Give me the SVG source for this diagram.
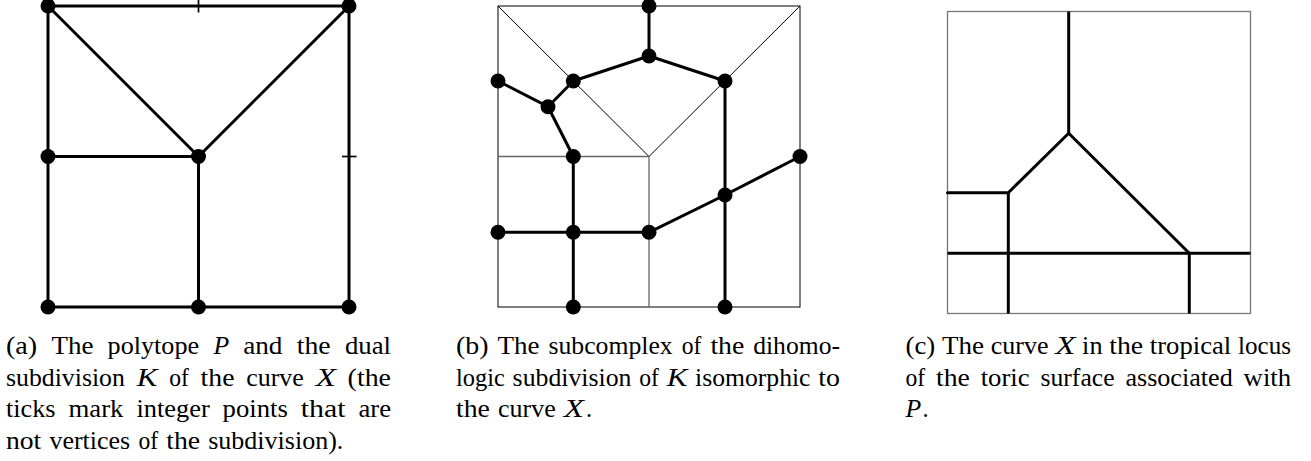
<svg xmlns="http://www.w3.org/2000/svg" width="1311" height="461" viewBox="0 0 1311 461">
<style>
.thick{stroke:#000;stroke-width:3;fill:none;stroke-linecap:round;stroke-linejoin:round}
.thin{stroke:#000;stroke-width:1;fill:none}
.grey{stroke:#666;stroke-width:1.3;fill:none}
.border{stroke:#777;stroke-width:1.3;fill:none}
.tick{stroke:#000;stroke-width:1.7;fill:none}
.dot{fill:#000}
.cap text{font-family:"Liberation Serif","DejaVu Serif",serif;font-size:24.4px;fill:#000}
.cap text.it{font-style:italic}
</style>
<rect width="1311" height="461" fill="#fff"/>

<!-- Panel (a) -->
<g id="panel-a">
  <g id="connectors-a">
    <polygon class="thick" points="48,6 349,6 349,307 48,307"/>
    <line class="thick" x1="48" y1="6" x2="198.5" y2="156.5"/>
    <line class="thick" x1="349" y1="6" x2="198.5" y2="156.5"/>
    <line class="thick" x1="48" y1="156.5" x2="198.5" y2="156.5"/>
    <line class="thick" x1="198.5" y1="156.5" x2="198.5" y2="307"/>
    <line class="tick" x1="198.5" y1="0" x2="198.5" y2="12.5"/>
    <line class="tick" x1="342" y1="156.5" x2="356.5" y2="156.5"/>
  </g>
  <g id="a-n1"><circle class="dot" cx="48" cy="6" r="7.5"/></g>
  <g id="a-n2"><circle class="dot" cx="349" cy="6" r="7.5"/></g>
  <g id="a-n3"><circle class="dot" cx="48" cy="156.5" r="7.5"/></g>
  <g id="a-n4"><circle class="dot" cx="198.5" cy="156.5" r="7.5"/></g>
  <g id="a-n5"><circle class="dot" cx="48" cy="307" r="7.5"/></g>
  <g id="a-n6"><circle class="dot" cx="198.5" cy="307" r="7.5"/></g>
  <g id="a-n7"><circle class="dot" cx="349" cy="307" r="7.5"/></g>
</g>

<!-- Panel (b) -->
<g id="panel-b">
  <g id="connectors-b">
    <rect class="thin" x="498" y="6" width="302" height="301"/>
    <line class="thin" x1="498" y1="6" x2="649" y2="156.5"/>
    <line class="thin" x1="800" y1="6" x2="649" y2="156.5"/>
    <line class="grey" x1="498" y1="156.5" x2="649" y2="156.5"/>
    <line class="grey" x1="649" y1="156.5" x2="649" y2="307"/>
    <line class="thick" x1="649" y1="6" x2="649" y2="56"/>
    <polyline class="thick" points="573.3,81 649,56 725,81"/>
    <polyline class="thick" points="498,81 548,106.7 573.3,81"/>
    <polyline class="thick" points="548,106.7 573.3,156.5 573.3,307"/>
    <line class="thick" x1="498" y1="232.3" x2="649" y2="232.3"/>
    <polyline class="thick" points="649,232.3 725,195 800,156.5"/>
    <line class="thick" x1="725" y1="81" x2="725" y2="307"/>
  </g>
  <g id="b-n1"><circle class="dot" cx="649" cy="6" r="7.5"/></g>
  <g id="b-n2"><circle class="dot" cx="649" cy="56" r="7.5"/></g>
  <g id="b-n3"><circle class="dot" cx="573.3" cy="81" r="7.5"/></g>
  <g id="b-n4"><circle class="dot" cx="725" cy="81" r="7.5"/></g>
  <g id="b-n5"><circle class="dot" cx="498" cy="81" r="7.5"/></g>
  <g id="b-n6"><circle class="dot" cx="548" cy="106.7" r="7.5"/></g>
  <g id="b-n7"><circle class="dot" cx="573.3" cy="156.5" r="7.5"/></g>
  <g id="b-n8"><circle class="dot" cx="800" cy="156.5" r="7.5"/></g>
  <g id="b-n9"><circle class="dot" cx="725" cy="195" r="7.5"/></g>
  <g id="b-n10"><circle class="dot" cx="498" cy="232.3" r="7.5"/></g>
  <g id="b-n11"><circle class="dot" cx="573.3" cy="232.3" r="7.5"/></g>
  <g id="b-n12"><circle class="dot" cx="649" cy="232.3" r="7.5"/></g>
  <g id="b-n13"><circle class="dot" cx="573.3" cy="307" r="7.5"/></g>
  <g id="b-n14"><circle class="dot" cx="725" cy="307" r="7.5"/></g>
</g>

<!-- Panel (c) -->
<g id="panel-c">
  <g id="connectors-c">
    <rect class="border" x="947.5" y="11.5" width="303" height="302"/>
    <line class="thick" x1="1068.7" y1="11.5" x2="1068.7" y2="133.3" style="stroke-linecap:butt"/>
    <polyline class="thick" points="947.5,192.7 1008.3,192.7 1068.7,133.3 1189.3,253.3"/>
    <line class="thick" x1="1008.3" y1="192.7" x2="1008.3" y2="313.5" style="stroke-linecap:butt"/>
    <line class="thick" x1="947.5" y1="253.3" x2="1250.5" y2="253.3" style="stroke-linecap:butt"/>
    <line class="thick" x1="1189.3" y1="253.3" x2="1189.3" y2="313.5" style="stroke-linecap:butt"/>
  </g>
</g>

<!-- Captions -->
<g id="caption-a" class="cap">
  <text x="6" y="354" textLength="31.2" lengthAdjust="spacingAndGlyphs">(a)</text>
  <text x="51.4" y="354" textLength="42" lengthAdjust="spacingAndGlyphs">The</text>
  <text x="107.6" y="354" textLength="91.5" lengthAdjust="spacingAndGlyphs">polytope</text>
  <text class="it" x="213.4" y="354" textLength="15.7" lengthAdjust="spacingAndGlyphs">P</text>
  <text x="243.2" y="354" textLength="39.3" lengthAdjust="spacingAndGlyphs">and</text>
  <text x="296.8" y="354" textLength="33.9" lengthAdjust="spacingAndGlyphs">the</text>
  <text x="344.9" y="354" textLength="46.1" lengthAdjust="spacingAndGlyphs">dual</text>

  <text x="6" y="385.7" textLength="118.9" lengthAdjust="spacingAndGlyphs">subdivision</text>
  <text class="it" x="136.7" y="385.7" textLength="20.7" lengthAdjust="spacingAndGlyphs">K</text>
  <text x="169.2" y="385.7" textLength="19.7" lengthAdjust="spacingAndGlyphs">of</text>
  <text x="200.6" y="385.7" textLength="33.9" lengthAdjust="spacingAndGlyphs">the</text>
  <text x="246.2" y="385.7" textLength="57.7" lengthAdjust="spacingAndGlyphs">curve</text>
  <text class="it" x="315.7" y="385.7" textLength="20.2" lengthAdjust="spacingAndGlyphs">X</text>
  <text x="347.6" y="385.7" textLength="43.4" lengthAdjust="spacingAndGlyphs">(the</text>

  <text x="6" y="417.3" textLength="49.6" lengthAdjust="spacingAndGlyphs">ticks</text>
  <text x="68.5" y="417.3" textLength="55" lengthAdjust="spacingAndGlyphs">mark</text>
  <text x="136.4" y="417.3" textLength="73.3" lengthAdjust="spacingAndGlyphs">integer</text>
  <text x="222.6" y="417.3" textLength="65.2" lengthAdjust="spacingAndGlyphs">points</text>
  <text x="300.8" y="417.3" textLength="44.8" lengthAdjust="spacingAndGlyphs">that</text>
  <text x="358.4" y="417.3" textLength="32.6" lengthAdjust="spacingAndGlyphs">are</text>

  <text x="6" y="449" textLength="35.3" lengthAdjust="spacingAndGlyphs">not</text>
  <text x="49.4" y="449" textLength="80.8" lengthAdjust="spacingAndGlyphs">vertices</text>
  <text x="138.4" y="449" textLength="19.7" lengthAdjust="spacingAndGlyphs">of</text>
  <text x="166.2" y="449" textLength="33.9" lengthAdjust="spacingAndGlyphs">the</text>
  <text x="208.2" y="449" textLength="135.2" lengthAdjust="spacingAndGlyphs">subdivision).</text>
</g>

<g id="caption-b" class="cap">
  <text x="456" y="354" textLength="32.6" lengthAdjust="spacingAndGlyphs">(b)</text>
  <text x="497.5" y="354" textLength="42" lengthAdjust="spacingAndGlyphs">The</text>
  <text x="548.5" y="354" textLength="124.2" lengthAdjust="spacingAndGlyphs">subcomplex</text>
  <text x="681.7" y="354" textLength="19.7" lengthAdjust="spacingAndGlyphs">of</text>
  <text x="710.4" y="354" textLength="33.9" lengthAdjust="spacingAndGlyphs">the</text>
  <text x="753.2" y="354" textLength="86.8" lengthAdjust="spacingAndGlyphs">dihomo-</text>

  <text x="456" y="385.7" textLength="48.8" lengthAdjust="spacingAndGlyphs">logic</text>
  <text x="512.6" y="385.7" textLength="118.9" lengthAdjust="spacingAndGlyphs">subdivision</text>
  <text x="639.2" y="385.7" textLength="19.7" lengthAdjust="spacingAndGlyphs">of</text>
  <text class="it" x="666.7" y="385.7" textLength="20.7" lengthAdjust="spacingAndGlyphs">K</text>
  <text x="695.1" y="385.7" textLength="115.4" lengthAdjust="spacingAndGlyphs">isomorphic</text>
  <text x="818.3" y="385.7" textLength="21.7" lengthAdjust="spacingAndGlyphs">to</text>

  <text x="456" y="417.3" textLength="33.9" lengthAdjust="spacingAndGlyphs">the</text>
  <text x="498" y="417.3" textLength="57.7" lengthAdjust="spacingAndGlyphs">curve</text>
  <text class="it" x="563.8" y="417.3" textLength="20.2" lengthAdjust="spacingAndGlyphs">X</text>
  <text x="586" y="417.3">.</text>
</g>

<g id="caption-c" class="cap">
  <text x="905.5" y="354" textLength="29.8" lengthAdjust="spacingAndGlyphs">(c)</text>
  <text x="942" y="354" textLength="42" lengthAdjust="spacingAndGlyphs">The</text>
  <text x="990.8" y="354" textLength="57.7" lengthAdjust="spacingAndGlyphs">curve</text>
  <text class="it" x="1055.2" y="354" textLength="20.2" lengthAdjust="spacingAndGlyphs">X</text>
  <text x="1082.1" y="354" textLength="20.4" lengthAdjust="spacingAndGlyphs">in</text>
  <text x="1109.2" y="354" textLength="33.9" lengthAdjust="spacingAndGlyphs">the</text>
  <text x="1149.8" y="354" textLength="81.4" lengthAdjust="spacingAndGlyphs">tropical</text>
  <text x="1238" y="354" textLength="53" lengthAdjust="spacingAndGlyphs">locus</text>

  <text x="905.5" y="385.7" textLength="19.7" lengthAdjust="spacingAndGlyphs">of</text>
  <text x="936" y="385.7" textLength="33.9" lengthAdjust="spacingAndGlyphs">the</text>
  <text x="980.7" y="385.7" textLength="48.9" lengthAdjust="spacingAndGlyphs">toric</text>
  <text x="1040.5" y="385.7" textLength="74.1" lengthAdjust="spacingAndGlyphs">surface</text>
  <text x="1125.4" y="385.7" textLength="107.3" lengthAdjust="spacingAndGlyphs">associated</text>
  <text x="1243.6" y="385.7" textLength="47.5" lengthAdjust="spacingAndGlyphs">with</text>

  <text class="it" x="905.5" y="417.3" textLength="15.7" lengthAdjust="spacingAndGlyphs">P</text>
  <text x="922.5" y="417.3">.</text>
</g>
</svg>
